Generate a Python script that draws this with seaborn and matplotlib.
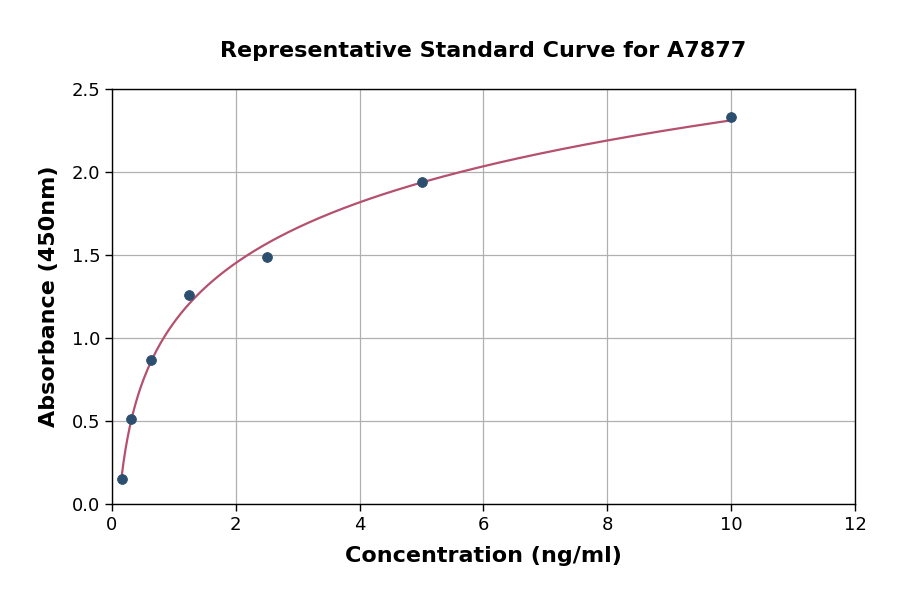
import numpy as np
import pandas as pd
import matplotlib
matplotlib.use("Agg")
import matplotlib.pyplot as plt
import seaborn as sns

# standard points
conc = [0.156, 0.3125, 0.625, 1.25, 2.5, 5.0, 10.0]
absorb = [0.15, 0.51, 0.87, 1.26, 1.49, 1.94, 2.33]

xticks = [0, 2, 4, 6, 8, 10, 12]
yticks = [0.0, 0.5, 1.0, 1.5, 2.0, 2.5]

df = pd.DataFrame({"conc": conc, "abs": absorb})

# smooth fitted curve through the standards (quadratic in log conc)
coef = np.polyfit(np.log(df["conc"]), df["abs"], 2)
xs = np.linspace(min(conc), max(conc), 300)
fit = pd.DataFrame({"conc": xs, "abs": np.polyval(coef, np.log(xs))})

sns.set_style("white")
plt.rcParams["font.family"] = ["DejaVu Sans"]
plt.rcParams["text.color"] = "black"
plt.rcParams["axes.labelcolor"] = "black"
plt.rcParams["xtick.color"] = "black"
plt.rcParams["ytick.color"] = "black"

fig = plt.figure(figsize=(9, 5.94), dpi=100)
ax = fig.add_axes([0.1244, 0.1515, 0.8256, 0.6985])

sns.lineplot(data=fit, x="conc", y="abs", ax=ax, color="#b5506e", linewidth=1.6)
sns.scatterplot(data=df, x="conc", y="abs", ax=ax, color="#2c4f70", s=50,
                edgecolor="#2c4f70", zorder=3)

ax.set_xlim(0, 12)
ax.set_ylim(0, 2.5)
ax.set_xticks(xticks)
ax.set_yticks(yticks)
ax.grid(True, color="#b0b0b0", linewidth=0.9)
ax.set_axisbelow(True)
for s in ax.spines.values():
    s.set_color("black")
    s.set_linewidth(1.0)
ax.tick_params(axis="both", labelsize=13, length=5, width=1, direction="out",
               bottom=True, left=True)

ax.set_xlabel("Concentration (ng/ml)", fontsize=16, fontweight="bold", labelpad=9)
ax.set_ylabel("Absorbance (450nm)", fontsize=16, fontweight="bold", labelpad=9)
ax.set_title("Representative Standard Curve for A7877", fontsize=16,
             fontweight="bold", pad=23)

fig.savefig("out.png", dpi=100)
